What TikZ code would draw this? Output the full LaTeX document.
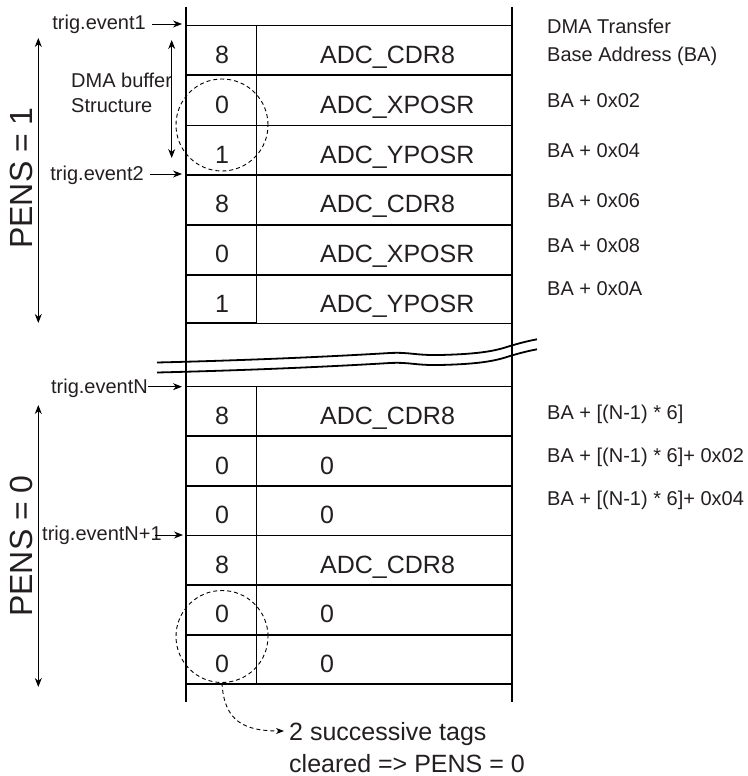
\documentclass[tikz,border=0pt]{standalone}
\usepackage{fontspec}
\setmainfont{Liberation Sans}
\usetikzlibrary{arrows.meta}
\definecolor{ink}{HTML}{231F20}
\begin{document}
\begin{tikzpicture}[x=1pt,y=-1pt,
  txt/.style={inner sep=0pt, text=ink},
  small/.style={txt, font=\fontsize{20}{24}\selectfont},
  big/.style={txt, font=\fontsize{25}{30}\selectfont},
  pens/.style={txt, font=\fontsize{32}{38}\selectfont, rotate=90},
  outer/.style={line width=2.2pt},
  thickrow/.style={line width=1.8pt},
  midrow/.style={line width=1.3pt},
  thinrow/.style={line width=1.0pt},
  tip/.style={-{Stealth[length=9pt,width=7pt]}, line width=0.9pt},
  dtip/.style={{Stealth[length=9pt,width=7pt]}-{Stealth[length=9pt,width=7pt]}, line width=0.9pt},
  dashc/.style={dash pattern=on 4pt off 3pt, line width=0.9pt},
  wave/.style={line width=1.8pt},
]
\useasboundingbox (0,0) rectangle (747,776);

% outer vertical lines and dividers
\draw[outer] (186,7) -- (186,702);
\draw[outer] (512,7) -- (512,702);
\draw[thinrow] (256.7,25.7) -- (256.7,323.3);
\draw[thinrow] (256.7,386.7) -- (256.7,684);

% upper rows
\draw[midrow]   (186,25.7)  -- (512,25.7);
\draw[thickrow] (186,75)    -- (512,75);
\draw[thinrow]  (186,125.3) -- (512,125.3);
\draw[thickrow] (186,174.7) -- (512,174.7);
\draw[thickrow] (186,224.7) -- (512,224.7);
\draw[thickrow] (186,274.7) -- (512,274.7);
\draw[thinrow]  (186,323.3) -- (512,323.3);
\draw[thickrow] (186,323.3) -- (256.7,323.3);

% lower rows
\draw[thinrow]  (186,386.7) -- (512,386.7);
\draw[thickrow] (186,436)   -- (512,436);
\draw[thickrow] (186,486)   -- (512,486);
\draw[thinrow]  (186,535.3) -- (512,535.3);
\draw[thickrow] (186,584.7) -- (512,584.7);
\draw[thickrow] (186,634.7) -- (512,634.7);
\draw[midrow]   (186,684)   -- (512,684);

% break lines
\draw[wave] (157,362.5) .. controls (260,360) and (340,356) .. (390,353)
  .. controls (410,352) and (415,355.5) .. (440,355)
  .. controls (480,354) and (495,351) .. (510,346)
  .. controls (520,343) and (528,341) .. (537,339.3);
\draw[wave] (157,372.5) .. controls (260,370) and (340,366) .. (390,363)
  .. controls (410,362) and (415,365.5) .. (440,365)
  .. controls (480,364) and (495,361) .. (510,356)
  .. controls (520,353) and (528,351) .. (537,349.3);

% cell texts, upper
\node[big, anchor=base] (a1) at (222,63.3) {8};
\node[big, anchor=base west] (b1) at (320,63.3) {ADC\_CDR8};
\node[big, anchor=base] (a2) at (222,113.2) {0};
\node[big, anchor=base west] (b2) at (320,113.2) {ADC\_XPOSR};
\node[big, anchor=base] (a3) at (222,163) {1};
\node[big, anchor=base west] (b3) at (320,163) {ADC\_YPOSR};
\node[big, anchor=base] (a4) at (222,212.7) {8};
\node[big, anchor=base west] (b4) at (320,212.7) {ADC\_CDR8};
\node[big, anchor=base] (a5) at (222,262.7) {0};
\node[big, anchor=base west] (b5) at (320,262.7) {ADC\_XPOSR};
\node[big, anchor=base] (a6) at (222,312) {1};
\node[big, anchor=base west] (b6) at (320,312) {ADC\_YPOSR};

% cell texts, lower
\node[big, anchor=base] (a7) at (222,424.3) {8};
\node[big, anchor=base west] (b7) at (320,424.3) {ADC\_CDR8};
\node[big, anchor=base] (a8) at (222,474) {0};
\node[big, anchor=base west] (b8) at (320,474) {0};
\node[big, anchor=base] (a9) at (222,523.6) {0};
\node[big, anchor=base west] (b9) at (320,523.6) {0};
\node[big, anchor=base] (a10) at (222,573) {8};
\node[big, anchor=base west] (b10) at (320,573) {ADC\_CDR8};
\node[big, anchor=base] (a11) at (222,622.7) {0};
\node[big, anchor=base west] (b11) at (320,622.7) {0};
\node[big, anchor=base] (a12) at (222,672.3) {0};
\node[big, anchor=base west] (b12) at (320,672.3) {0};

% dashed circles
\node[draw, dashc, circle, minimum size=92pt, inner sep=0pt] (c1) at (222,125) {};
\node[draw, dashc, circle, minimum size=92pt, inner sep=0pt] (c2) at (222,636.5) {};

% address labels
\node[small, anchor=base west] (r0) at (547,34) {DMA Transfer};
\node[small, anchor=base west] (r0b) at (547,62) {Base Address (BA)};
\node[small, anchor=base west] (r1) at (547,107) {BA + 0x02};
\node[small, anchor=base west] (r2) at (547,157) {BA + 0x04};
\node[small, anchor=base west] (r3) at (547,207) {BA + 0x06};
\node[small, anchor=base west] (r4) at (547,252) {BA + 0x08};
\node[small, anchor=base west] (r5) at (547,295) {BA + 0x0A};
\node[small, anchor=base west] (r6) at (547,419) {BA + [(N-1) * 6]};
\node[small, anchor=base west] (r7) at (547,462) {BA + [(N-1) * 6]+ 0x02};
\node[small, anchor=base west] (r8) at (547,505) {BA + [(N-1) * 6]+ 0x04};

% trigger labels
\node[small, anchor=base east] (t1) at (146,30) {trig.event1};
\coordinate (t1s) at (152,24);
\coordinate (t1e) at (182,24);
\draw[tip] (t1s) -- (t1e);
\node[small, anchor=base east] (t2) at (144,180) {trig.event2};
\coordinate (t2s) at (150,174);
\coordinate (t2e) at (182,174);
\draw[tip] (t2s) -- (t2e);
\node[small, anchor=base east] (tN) at (148,393) {trig.eventN};
\coordinate (tNs) at (148,386.7);
\coordinate (tNe) at (182,386.7);
\draw[tip] (tNs) -- (tNe);
\node[small, anchor=base west] (tN1) at (42,540) {trig.eventN+1};
\coordinate (tN1s) at (155,535);
\coordinate (tN1e) at (183,535);
\draw[tip] (tN1s) -- (tN1e);

% DMA buffer structure
\node[small, anchor=base west] (dbs1) at (71,87) {DMA buffer};
\node[small, anchor=base west] (dbs2) at (71,112) {Structure};
\coordinate (dbt) at (171.7,40);
\coordinate (dbb) at (171.7,158);
\draw[dtip] (dbt) -- (dbb);

% PENS arrows
\node[pens] (p1) at (21.5,178) {PENS = 1};
\coordinate (p1t) at (38.3,38);
\coordinate (p1b) at (38.3,323);
\draw[dtip] (p1t) -- (p1b);
\node[pens] (p0) at (21.5,546) {PENS = 0};
\coordinate (p0t) at (38.3,405);
\coordinate (p0b) at (38.3,687);
\draw[dtip] (p0t) -- (p0b);

% successive tags note
\node[big, anchor=base west] (n1) at (289,740) {2 successive tags};
\node[big, anchor=base west] (n2) at (289,772) {cleared => PENS = 0};
\coordinate (ntip) at (284,731);
\draw[dashc, -{Stealth[length=8pt,width=6pt]}] (c2.south) .. controls (224,722) and (245,731) .. (ntip);
\end{tikzpicture}
\end{document}
